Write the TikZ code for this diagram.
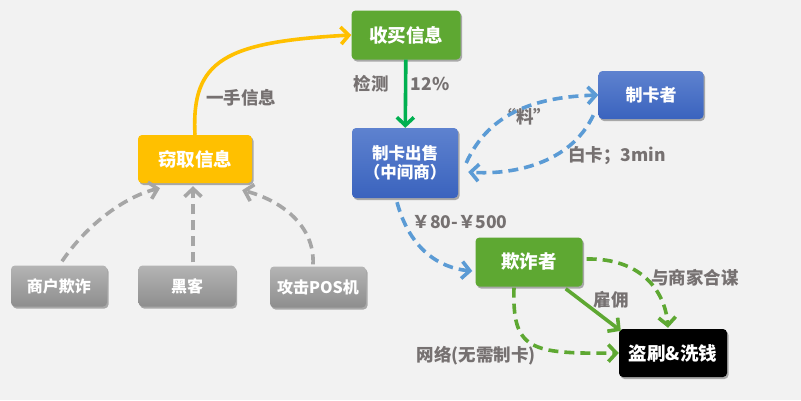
\documentclass[tikz,border=0pt]{standalone}
\usepackage{fontspec}
\setmainfont{Noto Sans CJK SC}
\usetikzlibrary{arrows.meta,shadows}
\definecolor{bg}{HTML}{F2F2F2}
\definecolor{gnode}{HTML}{5EA832}
\definecolor{ynode}{HTML}{FFC000}
\definecolor{btop}{HTML}{5E82CF}
\definecolor{bbot}{HTML}{3A63BE}
\definecolor{gtop}{HTML}{B4B4B4}
\definecolor{gbot}{HTML}{8E8E8E}
\definecolor{gline}{HTML}{00B050}
\definecolor{bline}{HTML}{5B9BD5}
\definecolor{grline}{HTML}{A6A6A6}
\definecolor{labc}{HTML}{767171}
\begin{document}
\begin{tikzpicture}[x=1pt,y=-1pt,
  box/.style={rounded corners=4pt, text=white, inner sep=0pt, align=center,
    font=\bfseries\fontsize{17}{19}\selectfont,
    drop shadow={shadow xshift=1.5pt,shadow yshift=-2pt,opacity=0.3,fill=black}},
  bigtxt/.style={font=\bfseries\fontsize{18.5}{20}\selectfont},
  gbox/.style={box, fill=gnode},
  bbox/.style={box, top color=btop, bottom color=bbot},
  graybox/.style={box, top color=gtop, bottom color=gbot, font=\bfseries\fontsize{16}{18}\selectfont},
  lab/.style={text=labc, font=\bfseries\fontsize{17.5}{19}\selectfont, inner sep=1pt},
  conn/.style={line width=3.6pt, -{Straight Barb[length=8pt,width=17pt]}},
  dsh/.style={conn, dash pattern=on 10pt off 6pt},
]
\fill[bg] (0,0) rectangle (801,400);
\useasboundingbox (0,0) rectangle (801,400);

\node[gbox, bigtxt, minimum width=109pt, minimum height=49pt] (buy) at (406,35) {收买信息};
\node[box, bigtxt, fill=ynode, minimum width=114pt, minimum height=48pt] (steal) at (195,159) {窃取信息};
\node[bbox, minimum width=106pt, minimum height=70pt, font=\bfseries\fontsize{16.5}{19}\selectfont] (sell) at (405,163) {制卡出售\\（中间商）};
\node[bbox, minimum width=105pt, minimum height=48pt] (mk) at (651,95) {制卡者};
\node[graybox, minimum width=96pt, minimum height=41pt] (m1) at (59,286) {商户欺诈};
\node[graybox, minimum width=97pt, minimum height=41pt] (hk) at (187,286) {黑客};
\node[graybox, minimum width=96pt, minimum height=41pt] (pos) at (318,287) {攻击POS机};
\node[gbox, bigtxt, minimum width=107pt, minimum height=49pt] (fraud) at (529,262) {欺诈者};
\node[box, bigtxt, fill=black, minimum width=108pt, minimum height=48pt] (wash) at (673,353) {盗刷\&洗钱};

% labels
\node[lab] (l1) at (241,98) {一手信息};
\node[lab] (l2) at (371,84) {检测};
\node[lab] (l3) at (430,84) {12\%};
\node[lab] (l4) at (525,117) {“料”};
\node[lab] (l5) at (617,156) {白卡；3min};
\node[lab] (l6) at (460,222) {￥80-￥500};
\node[lab] (l7) at (695,278) {与商家合谋};
\node[lab] (l8) at (611,300) {雇佣};
\node[lab] (l9) at (476,356) {网络(无需制卡)};

% connectors
\draw[conn, ynode] (steal.north) .. controls (191,60) and (225,42) .. (buy.west);
\draw[conn, gline] (buy) -- (sell);
\draw[dsh, bline] ([xshift=8pt]sell.east) .. controls (490,110) and (540,97) .. (mk.west);
\draw[dsh, bline] ([shift={(-5,-4)}]mk.south west) .. controls (570,165) and (510,175) .. ([shift={(10,9)}]sell.east);
\draw[dsh, bline] ([shift={(-8,4)}]sell.south) .. controls (410,250) and (440,268) .. ([shift={(-3,9)}]fraud.west);
\draw[dsh, grline] ([shift={(3,-4)}]m1.north) .. controls (90,220) and (130,195) .. ([shift={(-35,5)}]steal.south);
\draw[dsh, grline] ([shift={(6,-3)}]hk.north) -- ([shift={(-2,3)}]steal.south);
\draw[dsh, grline] ([shift={(-5,-2)}]pos.north) .. controls (315,225) and (280,200) .. ([shift={(-10,7)}]steal.south east);
\draw[dsh, gnode] ([shift={(4,-3)}]fraud.east) .. controls (640,258) and (665,290) .. ([shift={(-5,-1)}]wash.north);
\draw[conn, gnode] ([shift={(-17,2)}]fraud.south east) -- ([shift={(2,2)}]wash.north west);
\draw[dsh, gnode] ([shift={(-15,1)}]fraud.south) .. controls (512,350) and (530,354) .. (wash.west);
\end{tikzpicture}
\end{document}
